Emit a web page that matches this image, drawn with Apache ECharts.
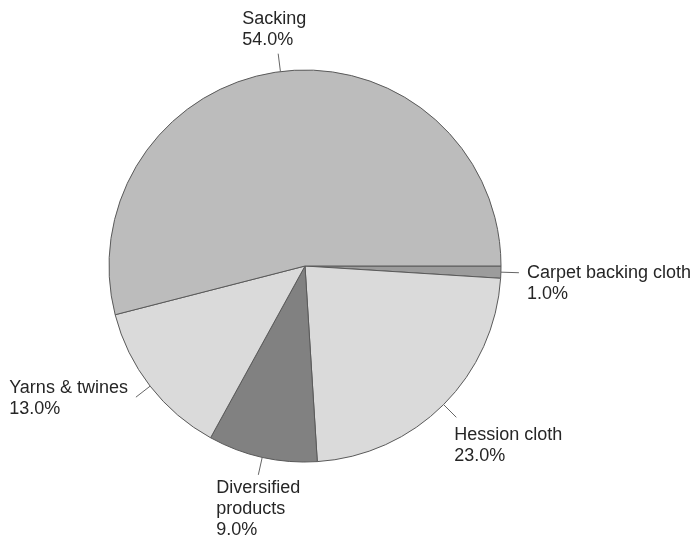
<!DOCTYPE html>
<html><head><meta charset="utf-8">
<script src="https://cdn.jsdelivr.net/npm/echarts@6/dist/echarts.min.js"></script>
<style>html,body{margin:0;padding:0;background:#fff}#c{width:698px;height:535px}</style>
</head><body><div id="c"></div>
<script>
// Data (clockwise from 3 o'clock)
const categories = ['Carpet backing cloth', 'Hession cloth', 'Diversified\nproducts', 'Yarns & twines', 'Sacking'];
const values = [1.0, 23.0, 9.0, 13.0, 54.0];

const chart = echarts.init(document.getElementById('c'), null, {renderer: 'canvas'});
const sliceColors = ['#9c9c9c', '#dadada', '#818181', '#dadada', '#bcbcbc'];

chart.setOption({
  backgroundColor: '#ffffff',
  animation: false,
  series: [{
    type: 'pie',
    center: [305, 266],
    radius: 196,
    startAngle: 0,
    clockwise: true,
    avoidLabelOverlap: false,
    emphasis: {disabled: true},
    data: categories.map((n, i) => ({name: n, value: values[i], itemStyle: {color: sliceColors[i]}})),
    itemStyle: {borderColor: '#5a5a5a', borderWidth: 1},
    label: {
      show: true,
      position: 'outside',
      fontFamily: 'Liberation Sans',
      fontSize: 18,
      lineHeight: 21,
      color: '#262626',
      formatter: p => p.name + '\n' + p.value.toFixed(1) + '%'
    },
    labelLine: {show: true, length: 18, length2: 0, lineStyle: {color: '#666666', width: 1}},
    labelLayout: function (p) {
      const pts = p.labelLinePoints;
      if (!pts) return {};
      const e = pts[pts.length - 1];
      const w = p.labelRect.width, h = p.labelRect.height;
      let x, y;
      switch (p.dataIndex) {
        case 0: x = e[0] + 8; y = e[1] - 10.5; break;
        case 1: x = e[0] - 2; y = e[1] + 7; break;
        case 2: x = e[0] - 42; y = e[1] + 3; break;
        case 3: x = e[0] - 8 - w; y = e[1] - h / 2 + 1; break;
        default: x = e[0] - w / 2 - 4; y = e[1] - 3 - h; break;
      }
      return {x: x, y: y, align: 'left', verticalAlign: 'top', labelLinePoints: pts};
    }
  }]
});
</script>
</body></html>
